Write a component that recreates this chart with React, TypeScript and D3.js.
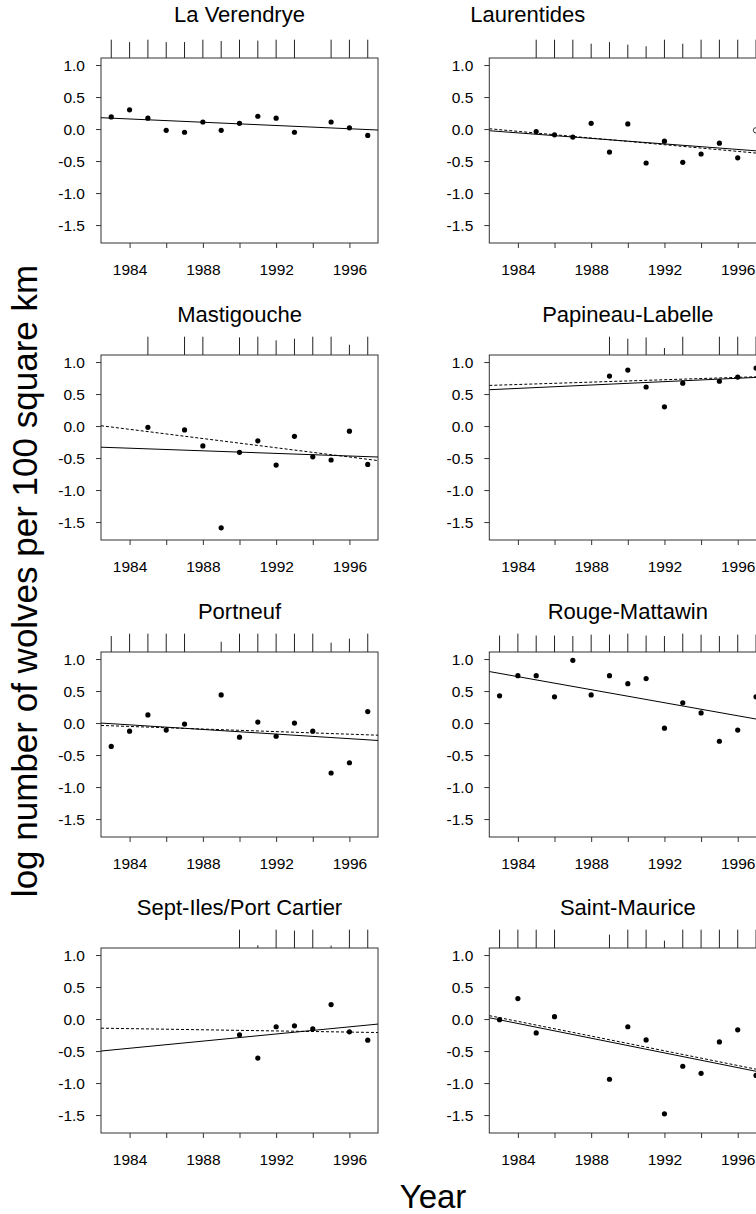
import * as React from "react";
import * as d3 from "d3";

const WIDTH = 756;
const HEIGHT = 1214;
const FONT = "'Liberation Sans', Arial, Helvetica, sans-serif";

// survey years shared by every region
const years = [1983, 1984, 1985, 1986, 1987, 1988, 1989, 1990, 1991, 1992, 1993, 1994, 1995, 1996, 1997];

const regions = [
  "La Verendrye",
  "Laurentides",
  "Mastigouche",
  "Papineau-Labelle",
  "Portneuf",
  "Rouge-Mattawin",
  "Sept-Iles/Port Cartier",
  "Saint-Maurice",
];

// log wolves per 100 km2, null = no survey
const laVerendrye = [0.19, 0.3, 0.17, -0.02, -0.05, 0.11, -0.02, 0.09, 0.2, 0.17, -0.05, null, 0.11, 0.02, -0.1];
const laurentides = [null, null, -0.04, -0.09, -0.125, 0.09, -0.36, 0.08, -0.53, -0.19, -0.52, -0.39, -0.22, -0.45, -0.02];
const mastigouche = [null, null, -0.02, null, -0.06, -0.31, -1.59, -0.41, -0.23, -0.61, -0.16, -0.48, -0.53, -0.08, -0.6];
const papineau = [null, null, null, null, null, null, 0.78, 0.875, 0.61, 0.3, 0.67, null, 0.7, 0.765, 0.905];
const portneuf = [-0.365, -0.127, 0.127, -0.11, -0.016, null, 0.44, -0.22, 0.016, -0.206, 0.0, -0.127, -0.78, -0.62, 0.18];
const rougeMattawin = [0.426, 0.74, 0.74, 0.41, 0.98, 0.44, 0.74, 0.615, 0.695, -0.08, 0.316, 0.158, -0.284, -0.11, 0.41];
const septIles = [null, null, null, null, null, null, null, -0.247, -0.61, -0.12, -0.105, -0.153, 0.226, -0.2, -0.33];
const saintMaurice = [-0.01, 0.32, -0.216, 0.037, null, null, -0.94, -0.12, -0.326, -1.48, -0.737, -0.847, -0.358, -0.168, -0.88];

const densities = [laVerendrye, laurentides, mastigouche, papineau, portneuf, rougeMattawin, septIles, saintMaurice];

// robust weights (drawn as the rug on top of each panel)
const weights = [
  [1, 0.87, 1, 0.87, 0.87, 1, 0.93, 1, 0.95, 1, 1, null, 1, 1, 1],
  [null, null, 1, 1, 1, 0.78, 0.87, 0.73, 0.64, 1, 0.78, 1, 1, 1, 1],
  [null, null, 1, null, 1, 1, 0, 0.96, 1, 0.8, 0.89, 1, 1, 0.56, 1],
  [null, null, null, null, null, null, 1, 0.89, 0.96, 0.38, 1, null, 1, 1, 1],
  [0.87, 1, 1, 1, 1, null, 0.56, 1, 1, 1, 1, 1, 0.51, 0.73, 1],
  [0.9, 1, 0.9, 0.9, 0.87, 0.95, 0.95, 1, 0.9, 0.87, 1, 0.95, 0.87, 0.95, 0.95],
  [null, null, null, null, null, null, null, 1, 0.15, 1, 0.95, 1, 0.13, 1, 1],
  [1, 1, 1, 1, null, null, 0.73, 1, 1, 0.4, 1, 1, 1, 1, 1],
];

// points left out of the fit (open symbol)
const excluded = [[], [1997], [], [], [], [], [], []];

// fitted values at 1983 and 1997
const solidFit = [
  [0.17, -0.008],
  [-0.038, -0.34],
  [-0.336, -0.478],
  [0.575, 0.76],
  [-0.01, -0.262],
  [0.776, 0.063],
  [-0.484, -0.094],
  [-0.012, -0.816],
];
const dashedFit = [
  null,
  [-0.01, -0.375],
  [-0.015, -0.519],
  [0.64, 0.77],
  [-0.043, -0.184],
  null,
  [-0.145, -0.208],
  [0.021, -0.783],
];

const yTicks = [-1.5, -1.0, -0.5, 0.0, 0.5, 1.0];
const xTicks = [1984, 1986, 1988, 1990, 1992, 1994, 1996];
const xLabels = [1984, 1988, 1992, 1996];

const colLeft = [101, 489.3];
const rowTop = [58, 355, 652, 948];
const boxW = 277;
const boxH = 185;
const rugLen = 18.3;
const titleShift = [0, -100, 0, 0, 0, 0, 0, 0];

function App() {
  const ref = React.useRef<SVGSVGElement>(null);

  React.useEffect(() => {
    const svg = d3.select(ref.current);
    svg.selectAll("*").remove();
    svg.attr("font-family", FONT);

    regions.forEach((name, i) => {
      const row = Math.floor(i / 2);
      const left = colLeft[i % 2];
      const top = rowTop[row];

      const x = d3.scaleLinear().domain([1982.44, 1997.56]).range([left, left + boxW]);
      const y = d3.scaleLinear().domain([-1.78, 1.11]).range([top + boxH, top]);

      const g = svg.append("g");

      g.append("clipPath")
        .attr("id", `clip${i}`)
        .append("rect")
        .attr("x", left)
        .attr("y", top)
        .attr("width", boxW)
        .attr("height", boxH);

      // title
      g.append("text")
        .attr("x", left + boxW / 2 + titleShift[i])
        .attr("y", top - (row === 0 ? 36 : 33))
        .attr("text-anchor", "middle")
        .attr("font-size", 22)
        .attr("fill", "#000")
        .text(name);

      // rug of weights
      const rug = years
        .map((yr, k) => ({ yr, w: weights[i][k] }))
        .filter((d) => d.w !== null && d.w > 0);
      g.selectAll(".rug")
        .data(rug)
        .enter()
        .append("line")
        .attr("x1", (d) => x(d.yr))
        .attr("x2", (d) => x(d.yr))
        .attr("y1", top)
        .attr("y2", (d) => top - rugLen * (d.w as number))
        .attr("stroke", "#222")
        .attr("stroke-width", 1);

      // axes
      const ya = g
        .append("g")
        .attr("transform", `translate(${left},0)`)
        .call(
          d3
            .axisLeft(y)
            .tickValues(yTicks)
            .tickSize(5)
            .tickPadding(11)
            .tickFormat((d) => (+d).toFixed(1))
        );
      ya.select(".domain").remove();
      ya.selectAll("line").attr("stroke", "#333");
      ya.selectAll("text").attr("font-size", 15.5).attr("font-family", FONT).attr("fill", "#000");

      const xa = g
        .append("g")
        .attr("transform", `translate(0,${top + boxH})`)
        .call(
          d3
            .axisBottom(x)
            .tickValues(xTicks)
            .tickSize(5)
            .tickPadding(15.5)
            .tickFormat((d) => (xLabels.includes(+d) ? String(d) : ""))
        );
      xa.select(".domain").remove();
      xa.selectAll("line").attr("stroke", "#333");
      xa.selectAll("text").attr("font-size", 15.5).attr("font-family", FONT).attr("fill", "#000");

      // box
      g.append("rect")
        .attr("x", left)
        .attr("y", top)
        .attr("width", boxW)
        .attr("height", boxH)
        .attr("fill", "none")
        .attr("stroke", "#333")
        .attr("stroke-width", 1);

      // fitted lines
      const fitLine = (fit: number[]) => {
        const slope = (fit[1] - fit[0]) / (1997 - 1983);
        const [x0, x1] = x.domain();
        return [
          [x0, fit[0] + slope * (x0 - 1983)],
          [x1, fit[0] + slope * (x1 - 1983)],
        ];
      };
      const line = d3
        .line<number[]>()
        .x((d) => x(d[0]))
        .y((d) => y(d[1]));

      const lines = g.append("g").attr("clip-path", `url(#clip${i})`);
      lines
        .append("path")
        .attr("d", line(fitLine(solidFit[i])))
        .attr("fill", "none")
        .attr("stroke", "#000")
        .attr("stroke-width", 1);
      if (dashedFit[i]) {
        lines
          .append("path")
          .attr("d", line(fitLine(dashedFit[i] as number[])))
          .attr("fill", "none")
          .attr("stroke", "#000")
          .attr("stroke-width", 1)
          .attr("stroke-dasharray", "3,2");
      }

      // points
      const pts = years
        .map((yr, k) => ({ yr, v: densities[i][k] }))
        .filter((d) => d.v !== null);
      g.selectAll(".pt")
        .data(pts)
        .enter()
        .append("circle")
        .attr("cx", (d) => x(d.yr))
        .attr("cy", (d) => y(d.v as number))
        .attr("r", (d) => (excluded[i].includes(d.yr) ? 2.7 : 2.6))
        .attr("fill", (d) => (excluded[i].includes(d.yr) ? "#fff" : "#000"))
        .attr("stroke", (d) => (excluded[i].includes(d.yr) ? "#000" : "none"))
        .attr("stroke-width", 0.8);
    });

    // outer labels
    svg
      .append("text")
      .attr("transform", "translate(37,581) rotate(-90)")
      .attr("text-anchor", "middle")
      .attr("font-size", 35)
      .attr("fill", "#000")
      .text("log number of wolves per 100 square km");

    svg
      .append("text")
      .attr("x", 433)
      .attr("y", 1208)
      .attr("text-anchor", "middle")
      .attr("font-size", 33)
      .attr("fill", "#000")
      .text("Year");
  }, []);

  return (
    <svg
      ref={ref}
      width={WIDTH}
      height={HEIGHT}
      style={{ position: "absolute", left: 0, top: 0, background: "#fff" }}
    />
  );
}

export default App;
